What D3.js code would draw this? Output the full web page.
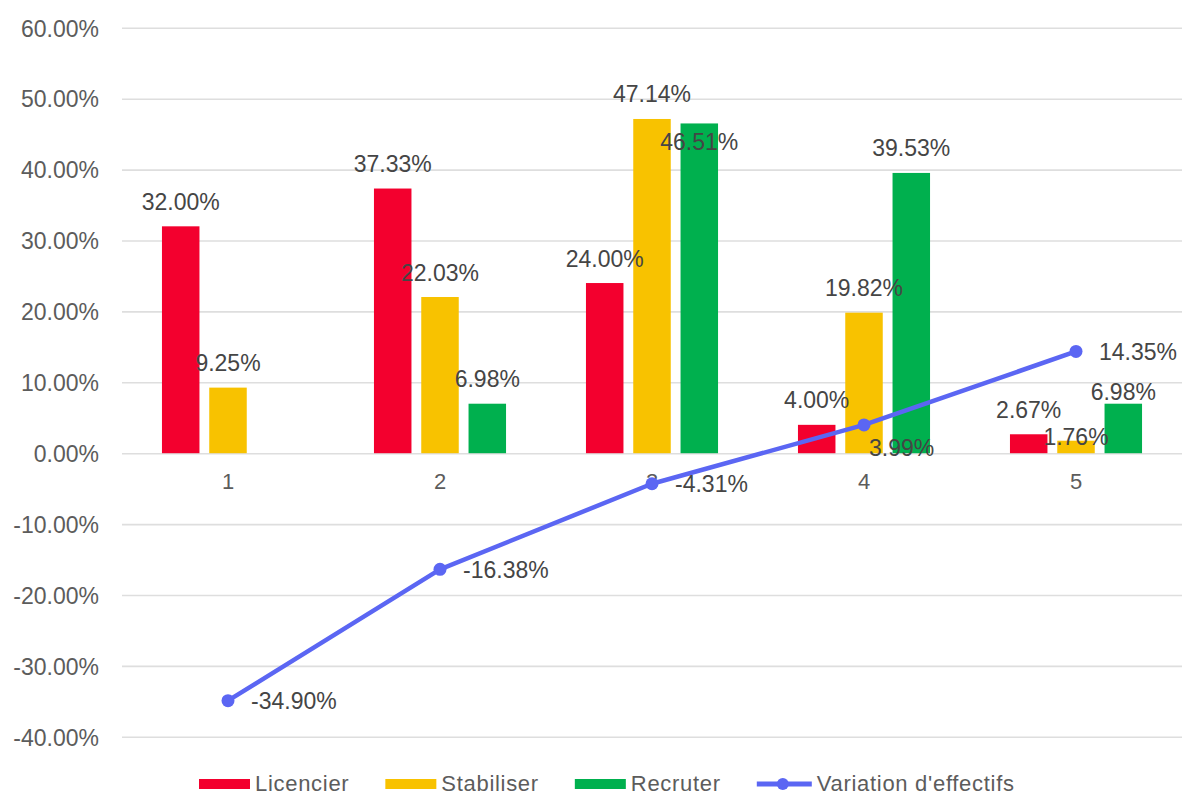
<!DOCTYPE html>
<html>
<head>
<meta charset="utf-8">
<script src="https://cdn.jsdelivr.net/npm/d3@7"></script>
<style>
  html, body { margin: 0; padding: 0; background: #ffffff; }
  svg { display: block; font-family: "Liberation Sans", Arial, Helvetica, sans-serif; }
</style>
</head>
<body>
<svg id="chart" width="1183" height="795"></svg>
<script>
// Categories along the x axis
const categories = ["1", "2", "3", "4", "5"];

// Bar series (percent values)
const licencier  = [32.00, 37.33, 24.00, 4.00, 2.67];
const stabiliser = [9.25, 22.03, 47.14, 19.82, 1.76];
const recruter   = [null, 6.98, 46.51, 39.53, 6.98];

// Line series (percent values)
const variation = [-34.90, -16.38, -4.31, 3.99, 14.35];

// Y axis ticks
const yTicks = [-40, -30, -20, -10, 0, 10, 20, 30, 40, 50, 60];

const seriesNames  = ["Licencier", "Stabiliser", "Recruter"];
const seriesValues = [licencier, stabiliser, recruter];
const seriesColors = ["#f3002e", "#f8c200", "#00b04e"];
const lineName  = "Variation d'effectifs";
const lineColor = "#5b66f3";

// Label nudges where labels would collide (series index, category index -> dy)
const barLabelNudge = { "2|2": 43, "1|4": 21, "2|4": 13 };
const lineLabelBelow = new Set([3]);

const fmt = v => v.toFixed(2) + "%";

const svg = d3.select("#chart");
const left = 122, right = 1182;

const y = d3.scaleLinear().domain([-40, 60]).range([736.8, 27.8]);

const x0 = d3.scaleBand()
  .domain(categories)
  .range([left, right])
  .paddingInner(0.377)
  .paddingOuter(0.377 / 2);

const x1 = d3.scaleBand()
  .domain(seriesNames)
  .range([0, x0.bandwidth()])
  .paddingInner(0.207);

const cx = c => x0(c) + x0.bandwidth() / 2;

// Grid lines and y tick labels
const yAxis = d3.axisLeft(y)
  .tickValues(yTicks)
  .tickSize(-(right - left))
  .tickPadding(23)
  .tickFormat(d => d.toFixed(2) + "%");

const gy = svg.append("g")
  .attr("transform", `translate(${left},0)`)
  .call(yAxis);
gy.select(".domain").remove();
gy.selectAll(".tick line").attr("stroke", "#dedede").attr("stroke-width", 1.6);
gy.selectAll(".tick text")
  .attr("fill", "#5c5c5c")
  .attr("font-size", 23)
  .attr("dy", "0.36em");

// X axis category labels
const xAxis = d3.axisBottom(x0).tickSize(0).tickPadding(20);
const gx = svg.append("g")
  .attr("transform", `translate(0,${y(0)})`)
  .call(xAxis);
gx.select(".domain").remove();
gx.selectAll(".tick text")
  .attr("fill", "#5c5c5c")
  .attr("font-size", 22);

// Bars
const barData = [];
seriesValues.forEach((vals, si) => {
  vals.forEach((v, ci) => {
    if (v !== null) barData.push({ si, ci, cat: categories[ci], name: seriesNames[si], v });
  });
});

svg.append("g").selectAll("rect")
  .data(barData)
  .join("rect")
  .attr("x", d => x0(d.cat) + x1(d.name))
  .attr("width", x1.bandwidth())
  .attr("y", d => y(Math.max(0, d.v)))
  .attr("height", d => Math.abs(y(d.v) - y(0)))
  .attr("fill", d => seriesColors[d.si]);

// Line series
const linePts = variation.map((v, i) => ({ cat: categories[i], v, i }));
const line = d3.line().x(d => cx(d.cat)).y(d => y(d.v));

svg.append("path")
  .datum(linePts)
  .attr("d", line)
  .attr("fill", "none")
  .attr("stroke", lineColor)
  .attr("stroke-width", 4.5)
  .attr("stroke-linejoin", "round");

svg.append("g").selectAll("circle")
  .data(linePts)
  .join("circle")
  .attr("cx", d => cx(d.cat))
  .attr("cy", d => y(d.v))
  .attr("r", 6.5)
  .attr("fill", lineColor);

// Bar value labels
svg.append("g").selectAll("text")
  .data(barData)
  .join("text")
  .attr("x", d => x0(d.cat) + x1(d.name) + x1.bandwidth() / 2)
  .attr("y", d => y(d.v) - 16.5 + (barLabelNudge[d.si + "|" + d.ci] || 0))
  .attr("text-anchor", "middle")
  .attr("font-size", 23)
  .attr("fill", "#454545")
  .text(d => fmt(d.v));

// Line value labels
svg.append("g").selectAll("text")
  .data(linePts)
  .join("text")
  .attr("x", d => cx(d.cat) + (lineLabelBelow.has(d.i) ? 5 : 23))
  .attr("y", d => y(d.v) + (lineLabelBelow.has(d.i) ? 31 : 8.5))
  .attr("font-size", 23)
  .attr("fill", "#454545")
  .text(d => fmt(d.v));

// Legend
const legend = svg.append("g").attr("transform", "translate(199,783)");
let lx = 0;
const legendItems = seriesNames.map((n, i) => ({ name: n, color: seriesColors[i], type: "bar" }))
  .concat([{ name: lineName, color: lineColor, type: "line" }]);

legendItems.forEach(item => {
  const g = legend.append("g").attr("transform", `translate(${lx},0)`);
  if (item.type === "bar") {
    g.append("rect").attr("x", 0).attr("y", -4).attr("width", 51).attr("height", 10).attr("fill", item.color);
  } else {
    g.append("line").attr("x1", 0).attr("x2", 55).attr("y1", 1).attr("y2", 1)
      .attr("stroke", item.color).attr("stroke-width", 5);
    g.append("circle").attr("cx", 26).attr("cy", 1).attr("r", 6).attr("fill", item.color);
  }
  const sw = item.type === "bar" ? 51 : 55;
  const t = g.append("text")
    .attr("x", sw + 5)
    .attr("y", 8)
    .attr("font-size", 22)
    .attr("letter-spacing", 0.7)
    .attr("fill", "#5c5c5c")
    .text(item.name);
  lx += sw + 5 + t.node().getComputedTextLength() + 36;
});
</script>
</body>
</html>
